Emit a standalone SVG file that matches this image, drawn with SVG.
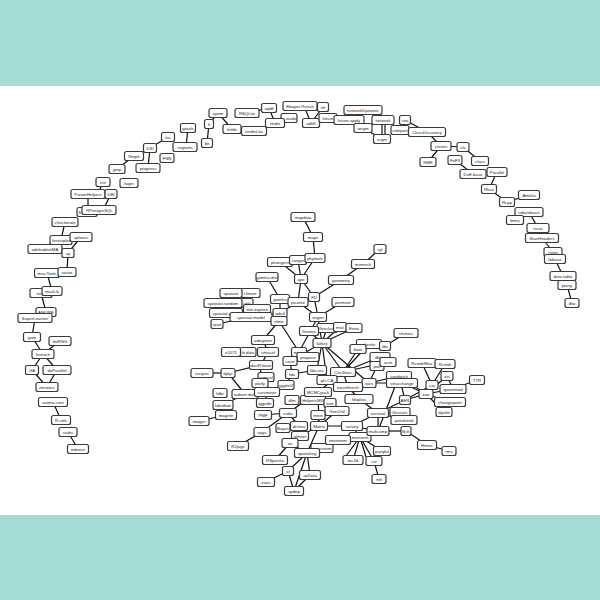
<svg xmlns="http://www.w3.org/2000/svg" width="600" height="600" viewBox="0 0 600 600">
<style>
.n rect{fill:#fff;stroke:#3a3a3a;stroke-width:1.2;rx:2px;ry:2px}
.n text{font-family:"Liberation Sans",Arial,sans-serif;font-size:4.3px;fill:#222;text-anchor:middle}
#edges line{stroke:#111;stroke-width:1.2}
</style>
<rect x="0" y="0" width="600" height="600" fill="#a6dcd6"/>
<rect x="0" y="86" width="600" height="429" fill="#ffffff"/>
<g id="edges">
<line x1="78" y1="449" x2="68" y2="432"/>
<line x1="61" y1="420" x2="53" y2="402"/>
<line x1="47" y1="387" x2="32" y2="370"/>
<line x1="47" y1="387" x2="57" y2="370"/>
<line x1="32" y1="370" x2="43" y2="354"/>
<line x1="57" y1="370" x2="43" y2="354"/>
<line x1="43" y1="354" x2="32" y2="337"/>
<line x1="43" y1="354" x2="60" y2="341"/>
<line x1="32" y1="337" x2="35" y2="318"/>
<line x1="46" y1="312" x2="41" y2="293"/>
<line x1="52" y1="291" x2="47" y2="273"/>
<line x1="67" y1="272" x2="68" y2="253"/>
<line x1="68" y1="253" x2="81" y2="237"/>
<line x1="61" y1="240" x2="65" y2="222"/>
<line x1="88" y1="194" x2="88" y2="210"/>
<line x1="111" y1="194" x2="103" y2="210"/>
<line x1="103" y1="182" x2="98" y2="194"/>
<line x1="134" y1="156" x2="117" y2="169"/>
<line x1="150" y1="148" x2="148" y2="168"/>
<line x1="168" y1="137" x2="150" y2="148"/>
<line x1="188" y1="128" x2="186" y2="147"/>
<line x1="150" y1="148" x2="134" y2="156"/>
<line x1="207" y1="143" x2="209" y2="124"/>
<line x1="209" y1="124" x2="218" y2="113"/>
<line x1="218" y1="113" x2="232" y2="129"/>
<line x1="247" y1="113" x2="269" y2="108"/>
<line x1="275" y1="123" x2="254" y2="131"/>
<line x1="275" y1="123" x2="289" y2="118"/>
<line x1="269" y1="108" x2="275" y2="123"/>
<line x1="304" y1="106" x2="311" y2="123"/>
<line x1="323" y1="107" x2="311" y2="123"/>
<line x1="328" y1="118" x2="349" y2="120"/>
<line x1="363" y1="110" x2="383" y2="120"/>
<line x1="382" y1="120" x2="382" y2="139"/>
<line x1="385" y1="120" x2="385" y2="139"/>
<line x1="363" y1="128" x2="382" y2="139"/>
<line x1="405" y1="120" x2="427" y2="132"/>
<line x1="427" y1="132" x2="441" y2="146"/>
<line x1="441" y1="146" x2="463" y2="147"/>
<line x1="441" y1="146" x2="428" y2="162"/>
<line x1="463" y1="147" x2="480" y2="161"/>
<line x1="455" y1="160" x2="473" y2="174"/>
<line x1="497" y1="172" x2="489" y2="189"/>
<line x1="489" y1="189" x2="507" y2="202"/>
<line x1="507" y1="202" x2="529" y2="195"/>
<line x1="529" y1="212" x2="538" y2="228"/>
<line x1="542" y1="238" x2="553" y2="252"/>
<line x1="555" y1="259" x2="563" y2="276"/>
<line x1="567" y1="285" x2="572" y2="303"/>
<line x1="303" y1="217" x2="313" y2="237"/>
<line x1="313" y1="237" x2="315" y2="258"/>
<line x1="315" y1="258" x2="301" y2="279"/>
<line x1="298" y1="260" x2="301" y2="279"/>
<line x1="280" y1="262" x2="301" y2="279"/>
<line x1="301" y1="279" x2="298" y2="302"/>
<line x1="301" y1="279" x2="314" y2="297"/>
<line x1="314" y1="297" x2="341" y2="280"/>
<line x1="341" y1="280" x2="363" y2="264"/>
<line x1="363" y1="264" x2="380" y2="249"/>
<line x1="314" y1="297" x2="318" y2="317"/>
<line x1="298" y1="302" x2="318" y2="317"/>
<line x1="267" y1="277" x2="280" y2="299"/>
<line x1="280" y1="299" x2="280" y2="313"/>
<line x1="298" y1="302" x2="280" y2="313"/>
<line x1="280" y1="313" x2="279" y2="321"/>
<line x1="251" y1="317" x2="280" y2="313"/>
<line x1="251" y1="317" x2="217" y2="324"/>
<line x1="318" y1="317" x2="343" y2="302"/>
<line x1="318" y1="317" x2="322" y2="343"/>
<line x1="318" y1="317" x2="299" y2="352"/>
<line x1="279" y1="321" x2="299" y2="352"/>
<line x1="279" y1="321" x2="263" y2="340"/>
<line x1="263" y1="340" x2="268" y2="352"/>
<line x1="299" y1="352" x2="290" y2="361"/>
<line x1="322" y1="343" x2="290" y2="361"/>
<line x1="322" y1="343" x2="309" y2="331"/>
<line x1="322" y1="343" x2="327" y2="328"/>
<line x1="322" y1="343" x2="340" y2="327"/>
<line x1="322" y1="343" x2="354" y2="328"/>
<line x1="322" y1="343" x2="343" y2="372"/>
<line x1="322" y1="343" x2="317" y2="370"/>
<line x1="322" y1="343" x2="327" y2="380"/>
<line x1="290" y1="361" x2="292" y2="374"/>
<line x1="292" y1="374" x2="317" y2="370"/>
<line x1="292" y1="374" x2="286" y2="385"/>
<line x1="268" y1="352" x2="261" y2="365"/>
<line x1="261" y1="365" x2="228" y2="373"/>
<line x1="202" y1="373" x2="228" y2="373"/>
<line x1="228" y1="373" x2="245" y2="394"/>
<line x1="261" y1="365" x2="260" y2="383"/>
<line x1="267" y1="392" x2="286" y2="385"/>
<line x1="265" y1="403" x2="267" y2="392"/>
<line x1="223" y1="405" x2="245" y2="394"/>
<line x1="199" y1="421" x2="226" y2="415"/>
<line x1="318" y1="392" x2="288" y2="413"/>
<line x1="288" y1="413" x2="262" y2="432"/>
<line x1="262" y1="432" x2="238" y2="446"/>
<line x1="288" y1="413" x2="263" y2="415"/>
<line x1="288" y1="413" x2="299" y2="426"/>
<line x1="319" y1="426" x2="300" y2="436"/>
<line x1="319" y1="426" x2="352" y2="426"/>
<line x1="319" y1="426" x2="337" y2="411"/>
<line x1="319" y1="426" x2="318" y2="415"/>
<line x1="319" y1="426" x2="307" y2="453"/>
<line x1="319" y1="426" x2="318" y2="392"/>
<line x1="337" y1="411" x2="330" y2="403"/>
<line x1="352" y1="426" x2="378" y2="413"/>
<line x1="352" y1="426" x2="378" y2="431"/>
<line x1="378" y1="413" x2="378" y2="431"/>
<line x1="378" y1="413" x2="404" y2="420"/>
<line x1="378" y1="413" x2="400" y2="412"/>
<line x1="378" y1="413" x2="405" y2="400"/>
<line x1="378" y1="413" x2="359" y2="399"/>
<line x1="405" y1="400" x2="426" y2="394"/>
<line x1="405" y1="400" x2="432" y2="385"/>
<line x1="405" y1="400" x2="399" y2="376"/>
<line x1="426" y1="394" x2="402" y2="383"/>
<line x1="426" y1="394" x2="399" y2="376"/>
<line x1="426" y1="394" x2="453" y2="389"/>
<line x1="426" y1="394" x2="447" y2="376"/>
<line x1="447" y1="376" x2="453" y2="389"/>
<line x1="453" y1="389" x2="477" y2="380"/>
<line x1="426" y1="394" x2="450" y2="402"/>
<line x1="426" y1="394" x2="444" y2="412"/>
<line x1="432" y1="385" x2="422" y2="363"/>
<line x1="432" y1="385" x2="445" y2="364"/>
<line x1="369" y1="383" x2="402" y2="383"/>
<line x1="369" y1="383" x2="399" y2="376"/>
<line x1="369" y1="383" x2="348" y2="387"/>
<line x1="348" y1="387" x2="359" y2="399"/>
<line x1="378" y1="431" x2="399" y2="376"/>
<line x1="406" y1="431" x2="427" y2="445"/>
<line x1="427" y1="445" x2="449" y2="451"/>
<line x1="378" y1="431" x2="406" y2="431"/>
<line x1="378" y1="431" x2="360" y2="437"/>
<line x1="360" y1="437" x2="353" y2="460"/>
<line x1="360" y1="437" x2="346" y2="456"/>
<line x1="360" y1="437" x2="374" y2="461"/>
<line x1="360" y1="437" x2="366" y2="457"/>
<line x1="360" y1="437" x2="382" y2="451"/>
<line x1="360" y1="437" x2="338" y2="440"/>
<line x1="360" y1="437" x2="352" y2="426"/>
<line x1="374" y1="461" x2="379" y2="479"/>
<line x1="338" y1="440" x2="322" y2="448"/>
<line x1="307" y1="453" x2="294" y2="491"/>
<line x1="288" y1="471" x2="294" y2="491"/>
<line x1="288" y1="471" x2="266" y2="482"/>
<line x1="288" y1="471" x2="307" y2="453"/>
<line x1="310" y1="475" x2="307" y2="453"/>
<line x1="310" y1="475" x2="294" y2="491"/>
<line x1="275" y1="460" x2="290" y2="443"/>
<line x1="290" y1="443" x2="307" y2="453"/>
<line x1="343" y1="372" x2="358" y2="349"/>
<line x1="343" y1="372" x2="380" y2="357"/>
<line x1="343" y1="372" x2="388" y2="362"/>
<line x1="343" y1="372" x2="369" y2="344"/>
<line x1="406" y1="333" x2="385" y2="346"/>
<line x1="348" y1="387" x2="343" y2="372"/>
<line x1="348" y1="387" x2="327" y2="380"/>
<line x1="369" y1="383" x2="377" y2="366"/>
<line x1="318" y1="392" x2="313" y2="400"/>
<line x1="318" y1="392" x2="343" y2="372"/>
<line x1="322" y1="343" x2="369" y2="383"/>
</g>
<g class="n" id="n-mboost"><rect x="67.5" y="444.5" width="21" height="9"/><text x="78" y="450.5">mboost</text></g>
<g class="n" id="n-stabs"><rect x="59" y="427.5" width="18" height="9"/><text x="68" y="433.5">stabs</text></g>
<g class="n" id="n-R.utils"><rect x="51.5" y="415.5" width="19" height="9"/><text x="61" y="421.5">R.utils</text></g>
<g class="n" id="n-aroma.core"><rect x="38.5" y="397.5" width="29" height="9"/><text x="53" y="403.5">aroma.core</text></g>
<g class="n" id="n-iterators"><rect x="36" y="382.5" width="22" height="9"/><text x="47" y="388.5">iterators</text></g>
<g class="n" id="n-GA"><rect x="25.5" y="365.5" width="13" height="9"/><text x="32" y="371.5">GA</text></g>
<g class="n" id="n-doParallel"><rect x="43" y="365.5" width="28" height="9"/><text x="57" y="371.5">doParallel</text></g>
<g class="n" id="n-foreach"><rect x="32" y="349.5" width="22" height="9"/><text x="43" y="355.5">foreach</text></g>
<g class="n" id="n-doRNG"><rect x="49" y="336.5" width="22" height="9"/><text x="60" y="342.5">doRNG</text></g>
<g class="n" id="n-gam"><rect x="23.5" y="332.5" width="17" height="9"/><text x="32" y="338.5">gam</text></g>
<g class="n" id="n-AMORE"><rect x="36" y="307.5" width="20" height="9"/><text x="46" y="313.5">AMORE</text></g>
<g class="n" id="n-SuperLearner"><rect x="18" y="313.5" width="34" height="9"/><text x="35" y="319.5">SuperLearner</text></g>
<g class="n" id="n-testit"><rect x="30" y="288.5" width="22" height="9"/><text x="41" y="294.5">testit</text></g>
<g class="n" id="n-maxLik"><rect x="42" y="286.5" width="20" height="9"/><text x="52" y="292.5">maxLik</text></g>
<g class="n" id="n-miscTools"><rect x="34.5" y="268.5" width="25" height="9"/><text x="47" y="274.5">miscTools</text></g>
<g class="n" id="n-raster"><rect x="58" y="267.5" width="18" height="9"/><text x="67" y="273.5">raster</text></g>
<g class="n" id="n-adehabitatMA"><rect x="28" y="244.5" width="34" height="9"/><text x="45" y="250.5">adehabitatMA</text></g>
<g class="n" id="n-sp"><rect x="62" y="248.5" width="12" height="9"/><text x="68" y="254.5">sp</text></g>
<g class="n" id="n-forestplot"><rect x="50" y="235.5" width="22" height="9"/><text x="61" y="241.5">forestplot</text></g>
<g class="n" id="n-splancs"><rect x="70" y="232.5" width="22" height="9"/><text x="81" y="238.5">splancs</text></g>
<g class="n" id="n-checkmate"><rect x="52" y="217.5" width="26" height="9"/><text x="65" y="223.5">checkmate</text></g>
<g class="n" id="n-S"><rect x="77" y="207.5" width="20" height="9"/><text x="79.8" y="213.5">S</text></g>
<g class="n" id="n-RPostgreSQL"><rect x="82" y="205.5" width="34" height="9"/><text x="99.5" y="211.5">RPostgreSQL</text></g>
<g class="n" id="n-ParamHelpers"><rect x="71" y="189.5" width="34" height="9"/><text x="88" y="195.5">ParamHelpers</text></g>
<g class="n" id="n-DBI"><rect x="105" y="189.5" width="12" height="9"/><text x="111" y="195.5">DBI</text></g>
<g class="n" id="n-rstr"><rect x="96" y="177.5" width="14" height="9"/><text x="103" y="183.5">rstr</text></g>
<g class="n" id="n-fagin"><rect x="120" y="178.5" width="18" height="9"/><text x="129" y="184.5">fagin</text></g>
<g class="n" id="n-gmp"><rect x="109" y="164.5" width="16" height="9"/><text x="117" y="170.5">gmp</text></g>
<g class="n" id="n-Rmpfr"><rect x="124.5" y="151.5" width="19" height="9"/><text x="134" y="157.5">Rmpfr</text></g>
<g class="n" id="n-progress"><rect x="136" y="163.5" width="24" height="9"/><text x="148" y="169.5">progress</text></g>
<g class="n" id="n-DSI"><rect x="143.5" y="143.5" width="13" height="9"/><text x="150" y="149.5">DSI</text></g>
<g class="n" id="n-FNN"><rect x="160" y="153.5" width="14" height="9"/><text x="167" y="159.5">FNN</text></g>
<g class="n" id="n-itis"><rect x="161.5" y="132.5" width="13" height="9"/><text x="168" y="138.5">itis</text></g>
<g class="n" id="n-regtools"><rect x="173" y="142.5" width="24" height="9"/><text x="185" y="148.5">regtools</text></g>
<g class="n" id="n-gtools"><rect x="180.5" y="123.5" width="15" height="9"/><text x="188" y="129.5">gtools</text></g>
<g class="n" id="n-bit"><rect x="201.5" y="138.5" width="11" height="9"/><text x="207" y="144.5">bit</text></g>
<g class="n" id="n-lt"><rect x="204.5" y="119.5" width="9" height="9"/><text x="209" y="125.5">lt</text></g>
<g class="n" id="n-spam"><rect x="209" y="108.5" width="18" height="9"/><text x="218" y="114.5">spam</text></g>
<g class="n" id="n-fields"><rect x="223" y="124.5" width="18" height="9"/><text x="232" y="130.5">fields</text></g>
<g class="n" id="n-RSQLite"><rect x="235" y="108.5" width="24" height="9"/><text x="247" y="114.5">RSQLite</text></g>
<g class="n" id="n-sqldf"><rect x="261.5" y="103.5" width="15" height="9"/><text x="269" y="109.5">sqldf</text></g>
<g class="n" id="n-viridisLite"><rect x="241.5" y="126.5" width="25" height="9"/><text x="254" y="132.5">viridisLite</text></g>
<g class="n" id="n-rasdo"><rect x="281" y="113.5" width="16" height="9"/><text x="291" y="119.5">rasdo</text></g>
<g class="n" id="n-viridis"><rect x="265.5" y="118.5" width="19" height="9"/><text x="275" y="124.5">viridis</text></g>
<g class="n" id="n-EbayesThresh"><rect x="283" y="101.5" width="34" height="9"/><text x="300" y="107.5">EbayesThresh</text></g>
<g class="n" id="n-nlt"><rect x="317.5" y="102.5" width="11" height="9"/><text x="323" y="108.5">nlt</text></g>
<g class="n" id="n-adlift"><rect x="302.5" y="118.5" width="17" height="9"/><text x="311" y="124.5">adlift</text></g>
<g class="n" id="n-future"><rect x="319" y="113.5" width="18" height="9"/><text x="328" y="119.5">future</text></g>
<g class="n" id="n-future.apply"><rect x="334" y="115.5" width="30" height="9"/><text x="349" y="121.5">future.apply</text></g>
<g class="n" id="n-networkDynamic"><rect x="344" y="105.5" width="38" height="9"/><text x="363" y="111.5">networkDynamic</text></g>
<g class="n" id="n-network"><rect x="372" y="115.5" width="22" height="9"/><text x="383" y="121.5">network</text></g>
<g class="n" id="n-tergm"><rect x="354" y="123.5" width="18" height="9"/><text x="363" y="129.5">tergm</text></g>
<g class="n" id="n-ergm"><rect x="373.5" y="134.5" width="17" height="9"/><text x="382" y="140.5">ergm</text></g>
<g class="n" id="n-compart"><rect x="391" y="125.5" width="18" height="9"/><text x="400" y="131.5">compart</text></g>
<g class="n" id="n-sna"><rect x="399.5" y="115.5" width="11" height="9"/><text x="405" y="121.5">sna</text></g>
<g class="n" id="n-ClassDiscovery"><rect x="408.5" y="127.5" width="37" height="9"/><text x="427" y="133.5">ClassDiscovery</text></g>
<g class="n" id="n-cluster"><rect x="431" y="141.5" width="20" height="9"/><text x="441" y="147.5">cluster</text></g>
<g class="n" id="n-clv"><rect x="457" y="142.5" width="12" height="9"/><text x="463" y="148.5">clv</text></g>
<g class="n" id="n-NMF"><rect x="420" y="157.5" width="16" height="9"/><text x="428" y="163.5">NMF</text></g>
<g class="n" id="n-FoF3"><rect x="448" y="155.5" width="14" height="9"/><text x="455" y="161.5">FoF3</text></g>
<g class="n" id="n-class"><rect x="471.5" y="156.5" width="17" height="9"/><text x="480" y="162.5">class</text></g>
<g class="n" id="n-DoE.base"><rect x="460" y="169.5" width="26" height="9"/><text x="473" y="175.5">DoE.base</text></g>
<g class="n" id="n-Parallel"><rect x="487" y="167.5" width="20" height="9"/><text x="497" y="173.5">Parallel</text></g>
<g class="n" id="n-Rfast"><rect x="481.5" y="184.5" width="15" height="9"/><text x="489" y="190.5">Rfast</text></g>
<g class="n" id="n-Amelia"><rect x="518.5" y="190.5" width="21" height="9"/><text x="529" y="196.5">Amelia</text></g>
<g class="n" id="n-Rcpp"><rect x="499.5" y="197.5" width="15" height="9"/><text x="507" y="203.5">Rcpp</text></g>
<g class="n" id="n-robustbase"><rect x="515" y="207.5" width="28" height="9"/><text x="529" y="213.5">robustbase</text></g>
<g class="n" id="n-brms"><rect x="506.5" y="215.5" width="17" height="9"/><text x="515" y="221.5">brms</text></g>
<g class="n" id="n-rrcov"><rect x="527" y="223.5" width="22" height="9"/><text x="538" y="229.5">rrcov</text></g>
<g class="n" id="n-StanHeaders"><rect x="525.5" y="233.5" width="33" height="9"/><text x="542" y="239.5">StanHeaders</text></g>
<g class="n" id="n-rstan"><rect x="544" y="247.5" width="18" height="9"/><text x="553" y="253.5">rstan</text></g>
<g class="n" id="n-lwbase"><rect x="544.5" y="254.5" width="21" height="9"/><text x="555" y="260.5">lwbase</text></g>
<g class="n" id="n-data.table"><rect x="550" y="271.5" width="26" height="9"/><text x="563" y="277.5">data.table</text></g>
<g class="n" id="n-proxy"><rect x="558" y="280.5" width="18" height="9"/><text x="567" y="286.5">proxy</text></g>
<g class="n" id="n-dtw"><rect x="565" y="298.5" width="14" height="9"/><text x="572" y="304.5">dtw</text></g>
<g class="n" id="n-mapdata"><rect x="291" y="212.5" width="24" height="9"/><text x="303" y="218.5">mapdata</text></g>
<g class="n" id="n-maps"><rect x="303.5" y="232.5" width="19" height="9"/><text x="313" y="238.5">maps</text></g>
<g class="n" id="n-phangorn"><rect x="267.5" y="257.5" width="25" height="9"/><text x="280" y="263.5">phangorn</text></g>
<g class="n" id="n-ranger"><rect x="289.5" y="255.5" width="17" height="9"/><text x="298" y="261.5">ranger</text></g>
<g class="n" id="n-phytools"><rect x="305" y="253.5" width="20" height="9"/><text x="315" y="259.5">phytools</text></g>
<g class="n" id="n-ape"><rect x="294.5" y="274.5" width="13" height="9"/><text x="301" y="280.5">ape</text></g>
<g class="n" id="n-gamlss.dist"><rect x="256" y="272.5" width="22" height="9"/><text x="267" y="278.5">gamlss.dist</text></g>
<g class="n" id="n-rgl"><rect x="374" y="244.5" width="12" height="9"/><text x="380" y="250.5">rgl</text></g>
<g class="n" id="n-mvmesh"><rect x="351.5" y="259.5" width="23" height="9"/><text x="363" y="265.5">mvmesh</text></g>
<g class="n" id="n-geometry"><rect x="328.5" y="275.5" width="25" height="9"/><text x="341" y="281.5">geometry</text></g>
<g class="n" id="n-FD"><rect x="308.5" y="292.5" width="11" height="9"/><text x="314" y="298.5">FD</text></g>
<g class="n" id="n-permute"><rect x="332" y="297.5" width="22" height="9"/><text x="343" y="303.5">permute</text></g>
<g class="n" id="n-gamlss"><rect x="270.5" y="294.5" width="19" height="9"/><text x="280" y="300.5">gamlss</text></g>
<g class="n" id="n-picante"><rect x="288" y="297.5" width="20" height="9"/><text x="298" y="303.5">picante</text></g>
<g class="n" id="n-vegan"><rect x="309.5" y="312.5" width="17" height="9"/><text x="318" y="318.5">vegan</text></g>
<g class="n" id="n-ade4"><rect x="273" y="308.5" width="14" height="9"/><text x="280" y="314.5">ade4</text></g>
<g class="n" id="n-spatstat.linnet"><rect x="240" y="288.5" width="20" height="9"/><text x="250" y="294.5">t.linnet</text></g>
<g class="n" id="n-spatstat"><rect x="220" y="288.5" width="22" height="9"/><text x="231" y="294.5">spatstat</text></g>
<g class="n" id="n-spatstat.utils"><rect x="241" y="298.5" width="12" height="9"/><text x="247" y="304.5">utils</text></g>
<g class="n" id="n-spatstat.random"><rect x="204" y="298.5" width="38" height="9"/><text x="223" y="304.5">spatstat.random</text></g>
<g class="n" id="n-spatstat.explore"><rect x="243.5" y="304.5" width="27" height="9"/><text x="257" y="310.5">stat.explore</text></g>
<g class="n" id="n-spatstat.geom"><rect x="209.5" y="308.5" width="33" height="9"/><text x="226" y="314.5">spatstat.geom</text></g>
<g class="n" id="n-spatstat.model"><rect x="230" y="312.5" width="42" height="9"/><text x="251" y="318.5">spatstat.model</text></g>
<g class="n" id="n-rpart"><rect x="211" y="319.5" width="12" height="9"/><text x="217" y="325.5">rpart</text></g>
<g class="n" id="n-nlme"><rect x="271" y="316.5" width="16" height="9"/><text x="279" y="322.5">nlme</text></g>
<g class="n" id="n-flexclust"><rect x="317" y="323.5" width="20" height="9"/><text x="327" y="329.5">flexclust</text></g>
<g class="n" id="n-mist"><rect x="333.5" y="322.5" width="13" height="9"/><text x="340" y="328.5">mist</text></g>
<g class="n" id="n-Extra"><rect x="346" y="323.5" width="16" height="9"/><text x="354" y="329.5">Extra</text></g>
<g class="n" id="n-flexmix"><rect x="299.5" y="326.5" width="19" height="9"/><text x="309" y="332.5">flexmix</text></g>
<g class="n" id="n-adegenet"><rect x="251.5" y="335.5" width="23" height="9"/><text x="263" y="341.5">adegenet</text></g>
<g class="n" id="n-lattice"><rect x="313" y="338.5" width="18" height="9"/><text x="322" y="344.5">lattice</text></g>
<g class="n" id="n-sfsmisc"><rect x="394" y="328.5" width="24" height="9"/><text x="406" y="334.5">sfsmisc</text></g>
<g class="n" id="n-fit.data"><rect x="240" y="347.5" width="16" height="9"/><text x="248" y="353.5">fit.data</text></g>
<g class="n" id="n-e1071"><rect x="221.5" y="347.5" width="19" height="9"/><text x="231" y="353.5">e1071</text></g>
<g class="n" id="n-smacof"><rect x="257.5" y="347.5" width="21" height="9"/><text x="268" y="353.5">smacof</text></g>
<g class="n" id="n-mgcv"><rect x="291.5" y="347.5" width="15" height="9"/><text x="299" y="353.5">mgcv</text></g>
<g class="n" id="n-propace"><rect x="297" y="352.5" width="22" height="9"/><text x="308" y="358.5">propace</text></g>
<g class="n" id="n-caret"><rect x="283" y="356.5" width="14" height="9"/><text x="290" y="362.5">caret</text></g>
<g class="n" id="n-shrinkr"><rect x="356.5" y="339.5" width="25" height="9"/><text x="369" y="345.5">shrinkr</text></g>
<g class="n" id="n-lde"><rect x="379.5" y="341.5" width="11" height="9"/><text x="385" y="347.5">lde</text></g>
<g class="n" id="n-boot"><rect x="350" y="344.5" width="16" height="9"/><text x="358" y="350.5">boot</text></g>
<g class="n" id="n-polr"><rect x="370" y="361.5" width="14" height="9"/><text x="377" y="367.5">polr</text></g>
<g class="n" id="n-dblist"><rect x="370" y="352.5" width="20" height="9"/><text x="380" y="358.5">dblist</text></g>
<g class="n" id="n-arsk"><rect x="380" y="357.5" width="16" height="9"/><text x="388" y="363.5">arsk</text></g>
<g class="n" id="n-dartR.base"><rect x="249.5" y="360.5" width="23" height="9"/><text x="261" y="366.5">dartR.base</text></g>
<g class="n" id="n-recipes"><rect x="191" y="368.5" width="22" height="9"/><text x="202" y="374.5">recipes</text></g>
<g class="n" id="n-dplyr"><rect x="221" y="368.5" width="14" height="9"/><text x="228" y="374.5">dplyr</text></g>
<g class="n" id="n-fda.usc"><rect x="307.5" y="365.5" width="19" height="9"/><text x="317" y="371.5">fda.usc</text></g>
<g class="n" id="n-fda"><rect x="285.5" y="369.5" width="13" height="9"/><text x="292" y="375.5">fda</text></g>
<g class="n" id="n-CircStats"><rect x="330.5" y="367.5" width="25" height="9"/><text x="343" y="373.5">CircStats</text></g>
<g class="n" id="n-sandwich"><rect x="386.5" y="371.5" width="25" height="9"/><text x="399" y="377.5">sandwich</text></g>
<g class="n" id="n-RcmdrMisc"><rect x="408" y="358.5" width="28" height="9"/><text x="422" y="364.5">RcmdrMisc</text></g>
<g class="n" id="n-Rcmdr"><rect x="435" y="359.5" width="20" height="9"/><text x="445" y="365.5">Rcmdr</text></g>
<g class="n" id="n-xts"><rect x="441" y="371.5" width="12" height="9"/><text x="447" y="377.5">xts</text></g>
<g class="n" id="n-TTR"><rect x="469.5" y="375.5" width="15" height="9"/><text x="477" y="381.5">TTR</text></g>
<g class="n" id="n-pls.CA"><rect x="317" y="375.5" width="20" height="9"/><text x="327" y="381.5">pls.CA</text></g>
<g class="n" id="n-vars"><rect x="362" y="378.5" width="14" height="9"/><text x="369" y="384.5">vars</text></g>
<g class="n" id="n-strucchange"><rect x="386.5" y="378.5" width="31" height="9"/><text x="402" y="384.5">strucchange</text></g>
<g class="n" id="n-car"><rect x="426" y="380.5" width="12" height="9"/><text x="432" y="386.5">car</text></g>
<g class="n" id="n-ggmcol"><rect x="258" y="372.5" width="16" height="9"/><text x="266" y="378.5">ggmcol</text></g>
<g class="n" id="n-plotly"><rect x="252" y="378.5" width="16" height="9"/><text x="260" y="384.5">plotly</text></g>
<g class="n" id="n-ggplot2"><rect x="278" y="380.5" width="16" height="9"/><text x="286" y="386.5">ggplot2</text></g>
<g class="n" id="n-wavethresh"><rect x="333.5" y="382.5" width="29" height="9"/><text x="348" y="388.5">wavethresh</text></g>
<g class="n" id="n-quantmod"><rect x="440" y="384.5" width="26" height="9"/><text x="453" y="390.5">quantmod</text></g>
<g class="n" id="n-fdbr"><rect x="213" y="388.5" width="14" height="9"/><text x="220" y="394.5">fdbr</text></g>
<g class="n" id="n-radiant.data"><rect x="232" y="389.5" width="26" height="9"/><text x="245" y="395.5">radiant.data</text></g>
<g class="n" id="n-survminer"><rect x="254.5" y="387.5" width="25" height="9"/><text x="267" y="393.5">survminer</text></g>
<g class="n" id="n-HelpersMG"><rect x="300.5" y="395.5" width="25" height="9"/><text x="313" y="401.5">HelpersMG</text></g>
<g class="n" id="n-MCMCpack"><rect x="304.5" y="387.5" width="27" height="9"/><text x="318" y="393.5">MCMCpack</text></g>
<g class="n" id="n-zoo"><rect x="419" y="389.5" width="14" height="9"/><text x="426" y="395.5">zoo</text></g>
<g class="n" id="n-fdaplus"><rect x="345" y="394.5" width="28" height="9"/><text x="359" y="400.5">fdaplus</text></g>
<g class="n" id="n-dlm"><rect x="285" y="395.5" width="14" height="9"/><text x="292" y="401.5">dlm</text></g>
<g class="n" id="n-AER"><rect x="399.5" y="395.5" width="11" height="9"/><text x="405" y="401.5">AER</text></g>
<g class="n" id="n-changepoint"><rect x="434.5" y="397.5" width="31" height="9"/><text x="450" y="403.5">changepoint</text></g>
<g class="n" id="n-arm"><rect x="324" y="398.5" width="12" height="9"/><text x="330" y="404.5">arm</text></g>
<g class="n" id="n-ggpubr"><rect x="256.5" y="398.5" width="17" height="9"/><text x="265" y="404.5">ggpubr</text></g>
<g class="n" id="n-lubridate"><rect x="213" y="400.5" width="20" height="9"/><text x="223" y="406.5">lubridate</text></g>
<g class="n" id="n-GenOrd"><rect x="325" y="406.5" width="24" height="9"/><text x="337" y="412.5">GenOrd</text></g>
<g class="n" id="n-coda"><rect x="279.5" y="408.5" width="17" height="9"/><text x="288" y="414.5">coda</text></g>
<g class="n" id="n-flexsurv"><rect x="390" y="407.5" width="20" height="9"/><text x="400" y="413.5">flexsurv</text></g>
<g class="n" id="n-survival"><rect x="367.5" y="408.5" width="21" height="9"/><text x="378" y="414.5">survival</text></g>
<g class="n" id="n-dynlm"><rect x="436" y="407.5" width="16" height="9"/><text x="444" y="413.5">dynlm</text></g>
<g class="n" id="n-magrittr"><rect x="215.5" y="410.5" width="21" height="9"/><text x="226" y="416.5">magrittr</text></g>
<g class="n" id="n-PMF"><rect x="254.5" y="410.5" width="17" height="9"/><text x="263" y="416.5">PMF</text></g>
<g class="n" id="n-mnet"><rect x="311" y="410.5" width="14" height="9"/><text x="318" y="416.5">mnet</text></g>
<g class="n" id="n-imager"><rect x="189" y="416.5" width="20" height="9"/><text x="199" y="422.5">imager</text></g>
<g class="n" id="n-penalized"><rect x="391" y="415.5" width="26" height="9"/><text x="404" y="421.5">penalized</text></g>
<g class="n" id="n-Bayes"><rect x="276" y="423.5" width="14" height="9"/><text x="283" y="429.5">Bayes</text></g>
<g class="n" id="n-dclone"><rect x="290.5" y="421.5" width="17" height="9"/><text x="299" y="427.5">dclone</text></g>
<g class="n" id="n-mvtnorm"><rect x="349" y="432.5" width="22" height="9"/><text x="360" y="438.5">mvtnorm</text></g>
<g class="n" id="n-Matrix"><rect x="310.5" y="421.5" width="17" height="9"/><text x="319" y="427.5">Matrix</text></g>
<g class="n" id="n-survey"><rect x="341.5" y="421.5" width="21" height="9"/><text x="352" y="427.5">survey</text></g>
<g class="n" id="n-multcomp"><rect x="367" y="426.5" width="22" height="9"/><text x="378" y="432.5">multcomp</text></g>
<g class="n" id="n-Bch"><rect x="401" y="426.5" width="10" height="9"/><text x="406" y="432.5">Bch</text></g>
<g class="n" id="n-rjags"><rect x="254" y="427.5" width="16" height="9"/><text x="262" y="433.5">rjags</text></g>
<g class="n" id="n-glmnet"><rect x="291.5" y="431.5" width="17" height="9"/><text x="300" y="437.5">glmnet</text></g>
<g class="n" id="n-sa"><rect x="282" y="438.5" width="16" height="9"/><text x="290" y="444.5">sa</text></g>
<g class="n" id="n-truncnorm"><rect x="311" y="443.5" width="22" height="9"/><text x="322" y="449.5">truncnorm</text></g>
<g class="n" id="n-tmvtnorm"><rect x="325.5" y="435.5" width="25" height="9"/><text x="338" y="441.5">tmvtnorm</text></g>
<g class="n" id="n-R2jags"><rect x="227.5" y="441.5" width="21" height="9"/><text x="238" y="447.5">R2jags</text></g>
<g class="n" id="n-Hmisc"><rect x="417.5" y="440.5" width="19" height="9"/><text x="427" y="446.5">Hmisc</text></g>
<g class="n" id="n-rms"><rect x="442" y="446.5" width="14" height="9"/><text x="449" y="452.5">rms</text></g>
<g class="n" id="n-partykit"><rect x="373.5" y="446.5" width="17" height="9"/><text x="382" y="452.5">partykit</text></g>
<g class="n" id="n-spatialreg"><rect x="294.5" y="448.5" width="25" height="9"/><text x="307" y="454.5">spatialreg</text></g>
<g class="n" id="n-RSpectra"><rect x="262.5" y="455.5" width="25" height="9"/><text x="275" y="461.5">RSpectra</text></g>
<g class="n" id="n-ct"><rect x="366" y="456.5" width="16" height="9"/><text x="374" y="462.5">ctv</text></g>
<g class="n" id="n-mc2d"><rect x="343" y="455.5" width="20" height="9"/><text x="353" y="461.5">mc2d</text></g>
<g class="n" id="n-sf"><rect x="282.5" y="466.5" width="11" height="9"/><text x="288" y="472.5">sf</text></g>
<g class="n" id="n-spData"><rect x="299.5" y="470.5" width="21" height="9"/><text x="310" y="476.5">spData</text></g>
<g class="n" id="n-mlt"><rect x="372" y="474.5" width="14" height="9"/><text x="379" y="480.5">mlt</text></g>
<g class="n" id="n-stars"><rect x="257.5" y="477.5" width="17" height="9"/><text x="266" y="483.5">stars</text></g>
<g class="n" id="n-spdep"><rect x="284.5" y="486.5" width="19" height="9"/><text x="294" y="492.5">spdep</text></g>
</svg>
